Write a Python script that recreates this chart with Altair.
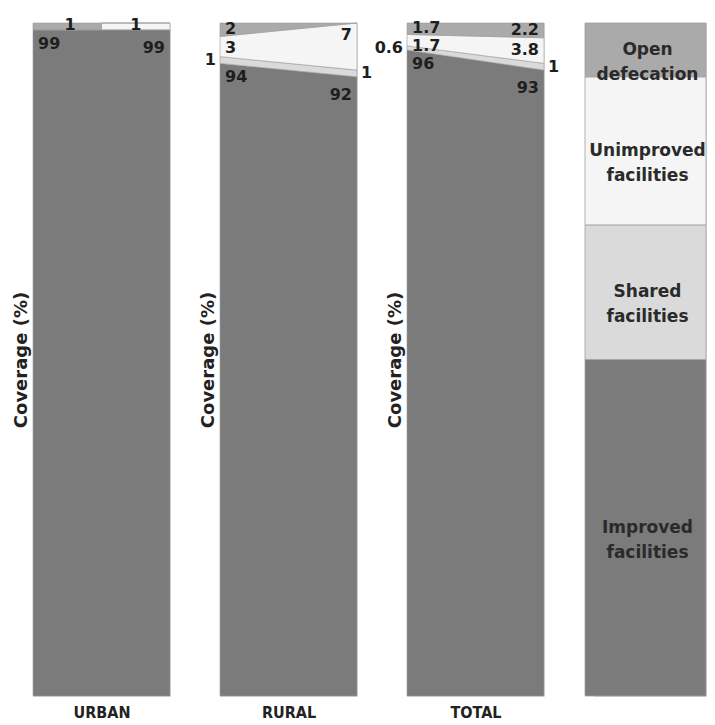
import altair as alt
import pandas as pd

# ---------------- data ----------------
panels = ["URBAN", "RURAL", "TOTAL"]
years = [1990, 2008]
categories = ["Improved facilities", "Shared facilities", "Unimproved facilities", "Open defecation"]
improved = [[99, 99], [94, 92], [96, 93]]
shared = [[0, 0], [1, 1], [0.6, 1]]
unimproved = [[0, 1], [3, 7], [1.7, 3.8]]
open_defecation = [[1, 0], [2, 0], [1.7, 2.2]]

legend_labels = ["Improved\nfacilities", "Shared\nfacilities", "Unimproved\nfacilities", "Open\ndefecation"]
legend_shares = [50, 20, 22, 8]

colors = ["#7b7b7b", "#dadada", "#f5f5f5", "#aaaaaa"]

# label placement rule per panel / category
label_kind = {
    "URBAN": ["top", "out", "above", "above"],
    "RURAL": ["top", "out", "intop", "in"],
    "TOTAL": ["top", "out", "intop", "in"],
}

# ---------------- build tables ----------------
rows, labels = [], []
for pi, p in enumerate(panels):
    series = [improved[pi], shared[pi], unimproved[pi], open_defecation[pi]]
    for yi, yr in enumerate(years):
        cum = 0.0
        for ci, c in enumerate(categories):
            v = series[ci][yi]
            rows.append(dict(panel=p, year=yr, category=c, order=ci, value=v))
            lo, hi = cum, cum + v
            cum = hi
            if v > 0:
                kind = label_kind[p][ci]
                side = "left" if yi == 0 else "right"
                if kind in ("top", "intop"):
                    y = hi
                elif kind == "above":
                    y = lo
                else:
                    y = (lo + hi) / 2
                x = yr
                if kind == "above":
                    x = years[0] + (years[1] - years[0]) * (0.27 if yi == 0 else 0.75)
                labels.append(dict(panel=p, year=x, value=y, text=f"{v:g}", kind=kind, side=side))

df = pd.DataFrame(rows)
ldf = pd.DataFrame(labels)

styles = {
    ("top", "left"): dict(align="left", baseline="top", dx=5, dy=6),
    ("top", "right"): dict(align="right", baseline="top", dx=-5, dy=10),
    ("intop", "left"): dict(align="left", baseline="top", dx=5, dy=4),
    ("intop", "right"): dict(align="right", baseline="top", dx=-5, dy=4),
    ("in", "left"): dict(align="left", baseline="middle", dx=5, dy=-1),
    ("in", "right"): dict(align="right", baseline="middle", dx=-5, dy=0),
    ("out", "left"): dict(align="right", baseline="middle", dx=-4, dy=0),
    ("out", "right"): dict(align="left", baseline="middle", dx=4, dy=0),
    ("above", "left"): dict(align="center", baseline="alphabetic", dx=0, dy=0),
    ("above", "right"): dict(align="center", baseline="alphabetic", dx=0, dy=0),
}

W, H = 137, 673
COND = "DejaVu Sans Condensed, Roboto, sans-serif"
color_scale = alt.Scale(domain=categories, range=colors)
xscale = alt.Scale(domain=[years[0], years[1]], nice=False, zero=False)
yscale = alt.Scale(domain=[0, 100], nice=False)


def make_panel(p, interp):
    xaxis = alt.Axis(labels=False, ticks=False, domain=False, grid=False, title=p,
                     titleFont=COND, titleFontSize=16, titleFontWeight="bold",
                     titleColor="#222", titlePadding=8)
    yaxis = alt.Axis(labels=False, ticks=False, domain=False, grid=False, title="Coverage (%)",
                     titleFont="DejaVu Sans", titleFontSize=18, titleFontWeight="bold",
                     titleColor="#222", titlePadding=3)
    area = alt.Chart(df[df.panel == p]).mark_area(
        interpolate=interp, stroke="#9a9a9a", strokeWidth=0.6
    ).encode(
        x=alt.X("year:Q", scale=xscale, axis=xaxis),
        y=alt.Y("value:Q", stack="zero", scale=yscale, axis=yaxis),
        color=alt.Color("category:N", scale=color_scale, legend=None),
        order=alt.Order("order:Q"),
    )
    layers = [area]
    sub = ldf[ldf.panel == p]
    for (kind, side), st in styles.items():
        s = sub[(sub.kind == kind) & (sub.side == side)]
        if len(s) == 0:
            continue
        layers.append(
            alt.Chart(s).mark_text(
                font="DejaVu Sans", fontSize=16, fontWeight="bold", color="#1e1e1e",
                align=st["align"], baseline=st["baseline"], dx=st["dx"], dy=st["dy"],
            ).encode(
                x=alt.X("year:Q", scale=xscale, axis=xaxis),
                y=alt.Y("value:Q", stack=None, scale=yscale, axis=yaxis),
                text="text:N",
            )
        )
    return alt.layer(*layers).properties(width=W, height=H)


panel_charts = [make_panel(p, "step" if p == "URBAN" else "linear") for p in panels]

# legend column (drawn slightly left of its cell so it sits closer to the TOTAL panel)
LW = 112
SHIFT = -9
leg_rows = []
cum = 0
for lab, sh, cat in zip(legend_labels, legend_shares, categories):
    leg_rows.append(dict(label=lab, category=cat, lo=cum, hi=cum + sh, mid=cum + sh / 2))
    cum += sh
legdf = pd.DataFrame(leg_rows)

leg_bars = alt.Chart(legdf).mark_rect(stroke="#a0a0a0", strokeWidth=0.8).encode(
    x=alt.value(SHIFT), x2=alt.value(LW),
    y=alt.Y("lo:Q", scale=yscale, axis=None), y2="hi:Q",
    color=alt.Color("category:N", scale=color_scale, legend=None),
)
leg_text = alt.Chart(legdf).mark_text(
    font="DejaVu Sans", fontSize=17, fontWeight="bold", color="#2a2a2a",
    lineBreak="\n", lineHeight=25, align="center", baseline="middle",
).encode(
    x=alt.value((SHIFT + LW) / 2 + 2),
    y=alt.Y("mid:Q", scale=yscale, axis=None),
    text="label:N",
)
legend_chart = alt.layer(leg_bars, leg_text).properties(width=LW, height=H)

chart = alt.hconcat(
    *panel_charts, legend_chart,
    spacing=50,
    bounds="flush",
).properties(
    padding={"left": 3, "top": 8, "right": 0, "bottom": 0}
).configure_view(stroke="#a0a0a0", strokeWidth=1).configure(background="white")

chart.save("out.html", embed_options={"renderer": "svg", "actions": False})
